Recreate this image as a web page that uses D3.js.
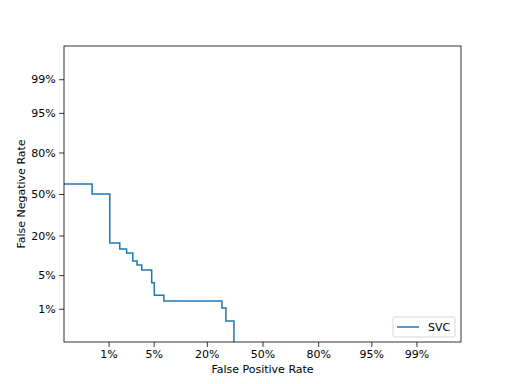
<!DOCTYPE html>
<html>
<head>
<meta charset="utf-8">
<script src="https://cdn.jsdelivr.net/npm/d3@7"></script>
<style>
body { margin: 0; background: #fff; }
text { font-family: "DejaVu Sans", sans-serif; }
</style>
</head>
<body>
<div id="chart-area"></div>
<script>
// DET curve for SVC, both axes on a normal deviate scale
var tickValues = [0.01, 0.05, 0.20, 0.50, 0.80, 0.95, 0.99];
var tickLabels = ["1%", "5%", "20%", "50%", "80%", "95%", "99%"];
var seriesName = "SVC";
// corner points of the step curve (false positive rate, false negative rate)
var fpr = [0.0005, 0.005, 0.0105, 0.0155, 0.02, 0.025, 0.029, 0.034, 0.047, 0.051, 0.068, 0.27, 0.29, 0.333];
var fnr = [0.58, 0.5, 0.16, 0.132, 0.116, 0.087, 0.075, 0.062, 0.036, 0.02, 0.015, 0.0104, 0.005, 0.0005];

// inverse normal cdf (Acklam)
function probit(p) {
	var a = [-39.69683028665376, 220.9460984245205, -275.9285104469687, 138.3577518672690, -30.66479806614716, 2.506628277459239];
	var b = [-54.47609879822406, 161.5858368580409, -155.6989798598866, 66.80131188771972, -13.28068155288572];
	var c = [-0.007784894002430293, -0.3223964580411365, -2.400758277161838, -2.549732539343734, 4.374664141464968, 2.938163982698783];
	var d = [0.007784695709041462, 0.3224671290700398, 2.445134137142996, 3.754408661907416];
	var plow = 0.02425, q, r;
	if (p < plow) {
		q = Math.sqrt(-2 * Math.log(p));
		return (((((c[0]*q+c[1])*q+c[2])*q+c[3])*q+c[4])*q+c[5]) / ((((d[0]*q+d[1])*q+d[2])*q+d[3])*q+1);
	}
	if (p <= 1 - plow) {
		q = p - 0.5; r = q*q;
		return (((((a[0]*r+a[1])*r+a[2])*r+a[3])*r+a[4])*r+a[5])*q / (((((b[0]*r+b[1])*r+b[2])*r+b[3])*r+b[4])*r+1);
	}
	q = Math.sqrt(-2 * Math.log(1 - p));
	return -(((((c[0]*q+c[1])*q+c[2])*q+c[3])*q+c[4])*q+c[5]) / ((((d[0]*q+d[1])*q+d[2])*q+d[3])*q+1);
}

var margin = {left:64, right:51, top:46, bottom:42};
var width = 512 - margin.left - margin.right;
var height = 384 - margin.top - margin.bottom;

var svg = d3.select("#chart-area")
	.append("svg")
		.attr("width", 512)
		.attr("height", 384);

var g = svg.append("g")
	.attr("transform", "translate(" + margin.left + "," + margin.top + ")");

var x = d3.scaleLinear().domain([-3, 3]).range([0, width]);
var y = d3.scaleLinear().domain([-3, 3]).range([height, 0]);

svg.append("defs").append("clipPath")
	.attr("id", "clip")
	.append("rect")
		.attr("width", width)
		.attr("height", height);

var xAxisCall = d3.axisBottom(x)
	.tickValues(tickValues.map(probit))
	.tickFormat(function(d, i) { return tickLabels[i]; })
	.tickSizeOuter(0)
	.tickSize(4.9)
	.tickPadding(3.5);
var xAxis = g.append("g")
	.attr("transform", "translate(0," + height + ")")
	.call(xAxisCall);

var yAxisCall = d3.axisLeft(y)
	.tickValues(tickValues.map(probit))
	.tickFormat(function(d, i) { return tickLabels[i]; })
	.tickSizeOuter(0)
	.tickSize(4.9)
	.tickPadding(3.5);
var yAxis = g.append("g").call(yAxisCall);

[xAxis, yAxis].forEach(function(ax) {
	ax.select(".domain").remove();
	ax.selectAll(".tick line").attr("stroke", "#000").attr("stroke-width", 0.8);
	ax.selectAll(".tick text")
		.attr("font-size", "11px")
		.attr("fill", "#000")
		.attr("font-family", "DejaVu Sans");
});

var pts = fpr.map(function(f, i) { return [probit(f), probit(fnr[i])]; });

var line = d3.line()
	.x(function(d) { return x(d[0]); })
	.y(function(d) { return y(d[1]); })
	.curve(d3.curveStepAfter);

g.append("path")
	.datum(pts)
	.attr("clip-path", "url(#clip)")
	.attr("fill", "none")
	.attr("stroke", "#1f77b4")
	.attr("stroke-width", 1.5)
	.attr("d", line);

g.append("rect")
	.attr("width", width)
	.attr("height", height)
	.attr("fill", "none")
	.attr("stroke", "#000")
	.attr("stroke-width", 0.8);

g.append("text")
	.attr("x", width / 2)
	.attr("y", height + 31)
	.attr("font-size", "11px")
	.attr("text-anchor", "middle")
	.text("False Positive Rate");

g.append("text")
	.attr("transform", "rotate(-90)")
	.attr("x", -height / 2)
	.attr("y", -39)
	.attr("font-size", "11px")
	.attr("text-anchor", "middle")
	.text("False Negative Rate");

// legend
var leg = g.append("g")
	.attr("transform", "translate(" + (width - 68) + "," + (height - 25) + ")");
leg.append("rect")
	.attr("width", 62)
	.attr("height", 20)
	.attr("rx", 2)
	.attr("fill", "#fff")
	.attr("fill-opacity", 0.8)
	.attr("stroke", "#ccc")
	.attr("stroke-width", 0.8);
leg.append("line")
	.attr("x1", 4).attr("x2", 26)
	.attr("y1", 10).attr("y2", 10)
	.attr("stroke", "#1f77b4")
	.attr("stroke-width", 1.5);
leg.append("text")
	.attr("x", 35)
	.attr("y", 14)
	.attr("font-size", "11px")
	.text(seriesName);
</script>
</body>
</html>
